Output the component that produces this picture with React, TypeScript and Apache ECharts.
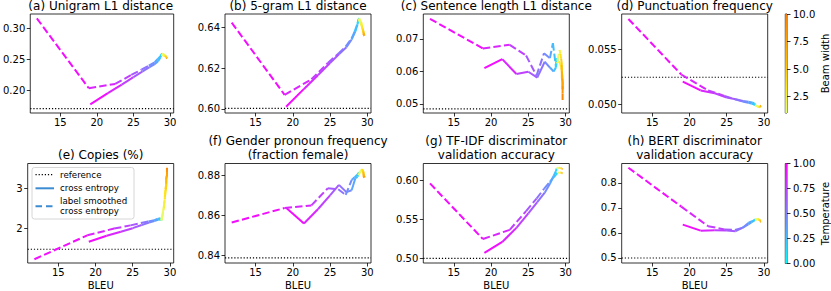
import React, { useEffect, useRef } from "react";
import * as echarts from "echarts";

// ---------- shared sweep parameters ----------
const temperatures = [1.0, 0.9, 0.8, 0.7, 0.6, 0.5, 0.4, 0.3, 0.2, 0.1, 0.0];
const beamWidths = [1, 2, 3, 4, 5, 6, 7, 8, 9, 10];
// BLEU of each sampling run (cross entropy = solid, label smoothed = dashed)
const ceTempBleu = [19.1, 21.5, 23.4, 25.0, 26.2, 27.2, 27.9, 28.4, 28.7, 28.8, 28.8];
const lsTempBleu = [11.8, 18.9, 22.5, 24.7, 26.1, 27.1, 27.9, 28.3, 28.7, 28.9, 28.9];
const ceBeamBleu = [28.8, 29.1, 29.3, 29.4, 29.5, 29.5, 29.5, 29.6, 29.6, 29.6];
const lsBeamBleu = [28.9, 29.2, 29.3, 29.4, 29.5, 29.5, 29.6, 29.6, 29.6, 29.6];
const xTicks = [15, 20, 25, 30];
const xLabel = "BLEU";

// (a)
const aTitle = "(a) Unigram L1 distance";
const aCeTemp = [0.177, 0.195, 0.209, 0.221, 0.23, 0.237, 0.242, 0.247, 0.253, 0.257, 0.257];
const aLsTemp = [0.316, 0.203, 0.21, 0.2245, 0.233, 0.2395, 0.245, 0.25, 0.255, 0.259, 0.259];
const aCeBeam = [0.257, 0.256, 0.255, 0.254, 0.253, 0.252, 0.252, 0.251, 0.251, 0.25];
const aLsBeam = [0.259, 0.258, 0.256, 0.255, 0.254, 0.253, 0.252, 0.252, 0.251, 0.251];
const aRef = 0.17;
const aYTicks = [0.2, 0.25, 0.3];

// (b)
const bTitle = "(b) 5-gram L1 distance";
const bCeTemp = [0.6011, 0.6098, 0.6166, 0.6225, 0.6268, 0.6302, 0.634, 0.638, 0.6415, 0.644, 0.644];
const bLsTemp = [0.6423, 0.6069, 0.6145, 0.6225, 0.627, 0.6305, 0.6345, 0.6378, 0.642, 0.6445, 0.6445];
const bCeBeam = [0.644, 0.642, 0.64, 0.6385, 0.6375, 0.6368, 0.6362, 0.6358, 0.6355, 0.6355];
const bLsBeam = [0.6445, 0.6425, 0.6405, 0.639, 0.6378, 0.637, 0.6365, 0.636, 0.6358, 0.6357];
const bRef = 0.6003;
const bYTicks = [0.6, 0.62, 0.64];

// (c)
const cTitle = "(c) Sentence length L1 distance";
const cCeTemp = [0.061, 0.0638, 0.0592, 0.0599, 0.0581, 0.063, 0.0612, 0.06, 0.0612, 0.064, 0.0625];
const cLsTemp = [0.0762, 0.0671, 0.0682, 0.0649, 0.0587, 0.0656, 0.0641, 0.0687, 0.0615, 0.0641, 0.0632];
const cCeBeam = [0.0625, 0.0632, 0.0622, 0.0612, 0.0602, 0.0592, 0.058, 0.0568, 0.0556, 0.0545];
const cLsBeam = [0.0632, 0.0666, 0.0655, 0.064, 0.0622, 0.06, 0.0578, 0.0555, 0.0532, 0.0512];
const cRef = 0.0485;
const cYTicks = [0.05, 0.06, 0.07];

// (d)
const dTitle = "(d) Punctuation frequency";
const dCeTemp = [0.05205, 0.05125, 0.051, 0.0506, 0.05045, 0.0503, 0.05022, 0.05015, 0.05008, 0.05, 0.04992];
const dLsTemp = [0.05775, 0.0527, 0.05125, 0.05075, 0.05045, 0.05025, 0.05012, 0.05005, 0.04998, 0.04988, 0.04985];
const dCeBeam = [0.04992, 0.04982, 0.04978, 0.04976, 0.04978, 0.0498, 0.04984, 0.04988, 0.04992, 0.04996];
const dLsBeam = [0.04985, 0.04978, 0.04974, 0.04972, 0.04974, 0.04978, 0.04983, 0.04988, 0.04993, 0.04998];
const dRef = 0.05245;
const dYTicks = [0.05, 0.055];

// (e)
const eTitle = "(e) Copies (%)";
const eCeTemp = [1.66, 1.81, 1.91, 2.0, 2.08, 2.14, 2.18, 2.21, 2.22, 2.21, 2.19];
const eLsTemp = [1.22, 1.82, 1.99, 2.07, 2.13, 2.17, 2.2, 2.23, 2.25, 2.22, 2.2];
const eCeBeam = [2.19, 2.45, 2.72, 2.92, 3.06, 3.17, 3.26, 3.34, 3.4, 3.46];
const eLsBeam = [2.2, 2.5, 2.78, 2.98, 3.12, 3.23, 3.32, 3.4, 3.46, 3.52];
const eRef = 1.47;
const eYTicks = [2, 3];

// (f)
const fTitle = "(f) Gender pronoun frequency\n(fraction female)";
const fCeTemp = [0.8638, 0.856, 0.8632, 0.87, 0.8752, 0.8716, 0.8725, 0.8785, 0.8792, 0.8805, 0.88];
const fLsTemp = [0.8565, 0.8637, 0.865, 0.8735, 0.873, 0.8702, 0.8776, 0.879, 0.8803, 0.8815, 0.8812];
const fCeBeam = [0.88, 0.8818, 0.8825, 0.882, 0.881, 0.88, 0.8792, 0.8788, 0.879, 0.8795];
const fLsBeam = [0.8812, 0.8826, 0.883, 0.8824, 0.8814, 0.8804, 0.8796, 0.879, 0.8788, 0.879];
const fRef = 0.8389;
const fYTicks = [0.84, 0.86, 0.88];

// (g)
const gTitle = "(g) TF-IDF discriminator\nvalidation accuracy";
const gCeTemp = [0.5075, 0.5215, 0.5395, 0.558, 0.5725, 0.5846, 0.596, 0.606, 0.612, 0.6155, 0.616];
const gLsTemp = [0.5965, 0.5252, 0.537, 0.561, 0.577, 0.5895, 0.5985, 0.6035, 0.6075, 0.61, 0.61];
const gCeBeam = [0.616, 0.6165, 0.6163, 0.616, 0.6157, 0.6154, 0.615, 0.6148, 0.6145, 0.6142];
const gLsBeam = [0.61, 0.6106, 0.6105, 0.6102, 0.6099, 0.6096, 0.6094, 0.6092, 0.609, 0.6088];
const gRef = 0.5005;
const gYTicks = [0.5, 0.55, 0.6];

// (h)
const hTitle = "(h) BERT discriminator\nvalidation accuracy";
const hCeTemp = [0.633, 0.609, 0.611, 0.61, 0.607, 0.622, 0.64, 0.647, 0.65, 0.653, 0.651];
const hLsTemp = [0.86, 0.705, 0.627, 0.614, 0.612, 0.62, 0.634, 0.642, 0.65, 0.655, 0.653];
const hCeBeam = [0.651, 0.655, 0.653, 0.65, 0.648, 0.646, 0.645, 0.644, 0.643, 0.642];
const hLsBeam = [0.653, 0.657, 0.655, 0.652, 0.65, 0.648, 0.647, 0.646, 0.645, 0.645];
const hRef = 0.5;
const hYTicks = [0.5, 0.6, 0.7, 0.8];

// colour bars
const beamTicks = [2.5, 5.0, 7.5, 10.0];
const tempTicks = [0.0, 0.25, 0.5, 0.75, 1.0];
const beamBarLabel = "Beam width";
const tempBarLabel = "Temperature";
const legendLabels = ["reference", "cross entropy", "label smoothed\ncross entropy"];

// ---------- styling / layout ----------
const FONT = "DejaVu Sans";
const X_MIN = 10.9;
const X_MAX = 30.5;
const BEAM_MIN = 1;
const BEAM_MAX = 10;
const colLefts = [27.7, 225, 423.3, 621.7];
const rowTops = [14, 163.5];
const rowHeights = [99, 100];
const GRID_W = 146;

const panels = [
  { title: aTitle, ce: aCeTemp, ls: aLsTemp, ceB: aCeBeam, lsB: aLsBeam, ref: aRef, ticks: aYTicks, dec: 2, min: 0.163, max: 0.323 },
  { title: bTitle, ce: bCeTemp, ls: bLsTemp, ceB: bCeBeam, lsB: bLsBeam, ref: bRef, ticks: bYTicks, dec: 2, min: 0.598, max: 0.6465 },
  { title: cTitle, ce: cCeTemp, ls: cLsTemp, ceB: cCeBeam, lsB: cLsBeam, ref: cRef, ticks: cYTicks, dec: 2, min: 0.0472, max: 0.0777 },
  { title: dTitle, ce: dCeTemp, ls: dLsTemp, ceB: dCeBeam, lsB: dLsBeam, ref: dRef, ticks: dYTicks, dec: 3, min: 0.0492, max: 0.0582 },
  { title: eTitle, ce: eCeTemp, ls: eLsTemp, ceB: eCeBeam, lsB: eLsBeam, ref: eRef, ticks: eYTicks, dec: 0, min: 1.125, max: 3.625 },
  { title: fTitle, ce: fCeTemp, ls: fLsTemp, ceB: fCeBeam, lsB: fLsBeam, ref: fRef, ticks: fYTicks, dec: 2, min: 0.8364, max: 0.8858 },
  { title: gTitle, ce: gCeTemp, ls: gLsTemp, ceB: gCeBeam, lsB: gLsBeam, ref: gRef, ticks: gYTicks, dec: 2, min: 0.4945, max: 0.622 },
  { title: hTitle, ce: hCeTemp, ls: hLsTemp, ceB: hCeBeam, lsB: hLsBeam, ref: hRef, ticks: hYTicks, dec: 1, min: 0.48, max: 0.877 },
];

const cool = (t: number) =>
  `rgb(${Math.round(255 * t)},${Math.round(255 * (1 - t))},255)`;
const wistiaRGB = [
  [228, 255, 122],
  [255, 232, 26],
  [255, 189, 0],
  [255, 160, 0],
  [252, 127, 0],
];
const wistia = (b: number) => {
  let t = (b - BEAM_MIN) / (BEAM_MAX - BEAM_MIN);
  t = Math.max(0, Math.min(1, t));
  const p = t * 4;
  const i = Math.min(3, Math.floor(p));
  const f = p - i;
  const c = wistiaRGB[i].map((v, k) => Math.round(v + (wistiaRGB[i + 1][k] - v) * f));
  return `rgb(${c[0]},${c[1]},${c[2]})`;
};

const DASH = [7.4, 3.2];
const LW = 2;

function segments(
  xs: number[],
  ys: number[],
  cs: number[],
  colorFn: (v: number) => string,
  dashed: boolean,
  gi: number
) {
  const out: any[] = [];
  for (let i = 0; i < xs.length - 1; i++) {
    out.push({
      type: "line",
      xAxisIndex: gi,
      yAxisIndex: gi,
      data: [
        [xs[i], ys[i]],
        [xs[i + 1], ys[i + 1]],
      ],
      symbol: "none",
      silent: true,
      emphasis: { disabled: true },
      z: 3,
      lineStyle: {
        color: colorFn((cs[i] + cs[i + 1]) / 2),
        width: LW,
        type: dashed ? DASH : "solid",
        cap: "butt",
        join: "round",
      },
    });
  }
  return out;
}

function buildOption() {
  const grids: any[] = [];
  const xAxes: any[] = [];
  const yAxes: any[] = [];
  const series: any[] = [];
  const titleTexts: any[] = [];
  const axisLine = { show: false };
  const tickStyle = { color: "#000", width: 0.8 };
  const labelStyle = { color: "#000", fontSize: 10, fontFamily: FONT };

  panels.forEach((p, gi) => {
    const row = gi < 4 ? 0 : 1;
    const col = gi % 4;
    grids.push({
      left: colLefts[col],
      top: rowTops[row],
      width: GRID_W,
      height: rowHeights[row],
      show: true,
      borderColor: "#000",
      borderWidth: 0.8,
      backgroundColor: "transparent",
      containLabel: false,
    });
    xAxes.push({
      gridIndex: gi,
      type: "value",
      min: X_MIN,
      max: X_MAX,
      axisLine,
      splitLine: { show: false },
      axisTick: { show: true, length: 3.5, customValues: xTicks, lineStyle: tickStyle },
      axisLabel: { ...labelStyle, margin: 4, customValues: xTicks, formatter: (v: number) => String(v) },
      name: row === 1 ? xLabel : "",
      nameLocation: "middle",
      nameGap: 17,
      nameTextStyle: labelStyle,
    });
    yAxes.push({
      gridIndex: gi,
      type: "value",
      min: p.min,
      max: p.max,
      axisLine,
      splitLine: { show: false },
      axisTick: { show: true, length: 3.5, customValues: p.ticks, lineStyle: tickStyle },
      axisLabel: {
        ...labelStyle,
        margin: 5,
        customValues: p.ticks,
        formatter: (v: number) => v.toFixed(p.dec),
      },
    });
    const twoLine = p.title.includes("\n");
    titleTexts.push({
      type: "text",
      x: colLefts[col] + GRID_W / 2,
      y: row === 0 ? -1 : twoLine ? 133.5 : 148,
      z: 20,
      style: {
        text: p.title,
        font: `12px '${FONT}'`,
        fill: "#000",
        align: "center",
        verticalAlign: "top",
        lineHeight: 14.5,
      },
    });
    // reference line
    series.push({
      type: "line",
      xAxisIndex: gi,
      yAxisIndex: gi,
      data: [
        [X_MIN, p.ref],
        [X_MAX, p.ref],
      ],
      symbol: "none",
      silent: true,
      z: 2,
      lineStyle: { color: "#000", width: 1.2, type: [1.2, 1.9] },
    });
    series.push(...segments(ceTempBleu, p.ce, temperatures, cool, false, gi));
    series.push(...segments(lsTempBleu, p.ls, temperatures, cool, true, gi));
    series.push(...segments(ceBeamBleu, p.ceB, beamWidths, wistia, false, gi));
    series.push(...segments(lsBeamBleu, p.lsB, beamWidths, wistia, true, gi));
  });

  // colour bars
  const bars = [
    { gi: 8, row: 0, min: BEAM_MIN, max: BEAM_MAX, ticks: beamTicks, dec: 1, label: beamBarLabel, fn: wistia },
    { gi: 9, row: 1, min: 0, max: 1, ticks: tempTicks, dec: 2, label: tempBarLabel, fn: cool },
  ];
  bars.forEach((b) => {
    grids.push({
      left: 785.3,
      top: rowTops[b.row],
      width: 5.4,
      height: rowHeights[b.row],
      show: true,
      borderColor: "#000",
      borderWidth: 0.8,
      backgroundColor: "transparent",
    });
    xAxes.push({ gridIndex: b.gi, type: "category", data: [b.label], show: false });
    yAxes.push({
      gridIndex: b.gi,
      type: "value",
      position: "right",
      min: b.min,
      max: b.max,
      axisLine,
      splitLine: { show: false },
      axisTick: { show: true, length: 3.5, customValues: b.ticks, lineStyle: tickStyle },
      axisLabel: { ...labelStyle, margin: 6, customValues: b.ticks, formatter: (v: number) => v.toFixed(b.dec) },
      name: b.label,
      nameLocation: "middle",
      nameRotate: 90,
      nameGap: 33,
      nameTextStyle: labelStyle,
    });
    const stops: any[] = [];
    for (let k = 0; k <= 20; k++) {
      const v = b.max - (k / 20) * (b.max - b.min);
      stops.push({ offset: k / 20, color: b.fn(v) });
    }
    series.push({
      type: "bar",
      xAxisIndex: b.gi,
      yAxisIndex: b.gi,
      data: [b.max],
      barWidth: "100%",
      silent: true,
      itemStyle: { color: new echarts.graphic.LinearGradient(0, 0, 0, 1, stops) },
    });
  });

  // legend (in panel e)
  const lx = 32;
  const ly = 167.5;
  const legendBlue = "#3c8cd2";
  const legendText = { fill: "#000", font: `8.7px '${FONT}'`, align: "left", verticalAlign: "middle" };
  const legend = {
    type: "group",
    children: [
      {
        type: "rect",
        shape: { x: lx, y: ly, width: 102, height: 51.5, r: 2.5 },
        style: { fill: "rgba(255,255,255,0.8)", stroke: "#cccccc", lineWidth: 0.8 },
        z: 10,
      },
      {
        type: "line",
        shape: { x1: lx + 3.5, y1: ly + 7.2, x2: lx + 22, y2: ly + 7.2 },
        style: { stroke: "#000", lineWidth: 1.2, lineDash: [1.2, 1.9] },
        z: 11,
      },
      {
        type: "line",
        shape: { x1: lx + 3.5, y1: ly + 20.8, x2: lx + 22, y2: ly + 20.8 },
        style: { stroke: legendBlue, lineWidth: 2 },
        z: 11,
      },
      {
        type: "line",
        shape: { x1: lx + 3.5, y1: ly + 38.8, x2: lx + 22, y2: ly + 38.8 },
        style: { stroke: legendBlue, lineWidth: 2, lineDash: [6.5, 4] },
        z: 11,
      },
      { type: "text", x: lx + 28, y: ly + 7.2, style: { text: legendLabels[0], ...legendText }, z: 11 },
      { type: "text", x: lx + 28, y: ly + 20.8, style: { text: legendLabels[1], ...legendText }, z: 11 },
      {
        type: "text",
        x: lx + 28,
        y: ly + 38.8,
        style: { text: legendLabels[2], ...legendText, lineHeight: 9.7 },
        z: 11,
      },
    ],
  };

  return {
    animation: false,
    backgroundColor: "#ffffff",
    grid: grids,
    xAxis: xAxes,
    yAxis: yAxes,
    series,
    graphic: [...titleTexts, legend],
  };
}

export default function App() {
  const ref = useRef<HTMLDivElement>(null);
  useEffect(() => {
    if (!ref.current) return;
    const chart = echarts.init(ref.current, undefined, { renderer: "svg" });
    chart.setOption(buildOption() as any);
    return () => chart.dispose();
  }, []);
  return (
    <div
      ref={ref}
      style={{ position: "absolute", left: 0, top: 0, width: 831, height: 291 }}
    />
  );
}
